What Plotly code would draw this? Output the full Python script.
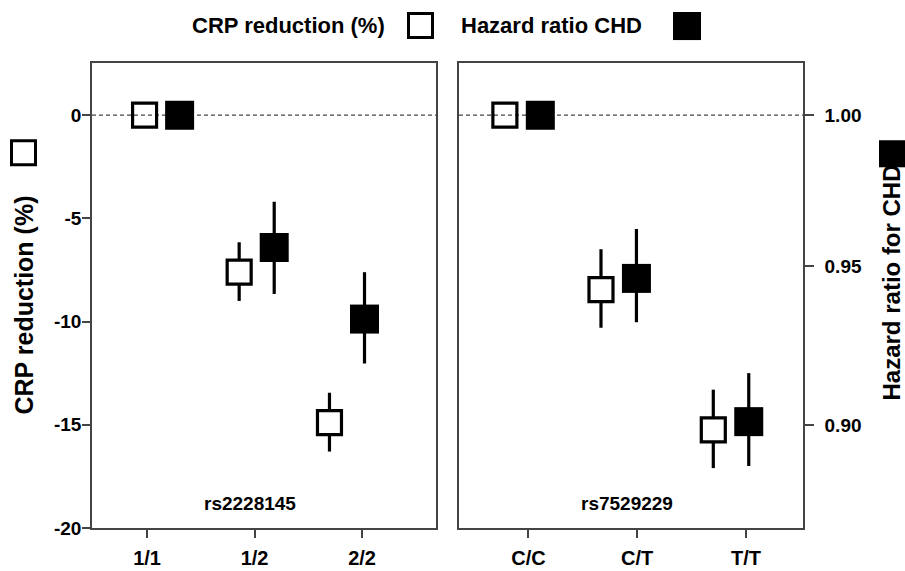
import math
import plotly.graph_objects as go

# ---------------- data ----------------
genotypes_left = ["1/1", "1/2", "2/2"]
genotypes_right = ["C/C", "C/T", "T/T"]
snp_left = "rs2228145"
snp_right = "rs7529229"

crp_left = [0.0, -7.6, -14.9]
crp_left_lo = [0.0, -9.0, -16.3]
crp_left_hi = [0.0, -6.15, -13.45]
hr_left = [1.00, 0.956, 0.933]
hr_left_lo = [1.00, 0.941, 0.919]
hr_left_hi = [1.00, 0.971, 0.948]

crp_right = [0.0, -8.45, -15.25]
crp_right_lo = [0.0, -10.3, -17.1]
crp_right_hi = [0.0, -6.5, -13.3]
hr_right = [1.00, 0.946, 0.901]
hr_right_lo = [1.00, 0.932, 0.8875]
hr_right_hi = [1.00, 0.962, 0.916]

crp_ticks = [0, -5, -10, -15, -20]
crp_ticklabels = ["0", "-5", "-10", "-15", "-20"]
hr_ticks = [1.00, 0.95, 0.90]
hr_ticklabels = ["1.00", "0.95", "0.90"]

legend_crp = "CRP reduction (%)"
legend_hr = "Hazard ratio CHD"
title_left = "CRP reduction (%)"
title_right = "Hazard ratio for CHD"

# ---------------- layout constants ----------------
W, H = 905, 571
FIG_H = 583
FONT = "Liberation Sans, Arial, sans-serif"
AX = "#444444"


def fx(p):
    return p / W


def fy(p):
    return 1 - p / H


Y_DOM = [fy(527), fy(62.7)]
CRP_RANGE = [-20, 2.54]
HR_RANGE = [math.log10(0.869), math.log10(1.018)]
HALF = 0.163
SHIFT_LEFT = [0.14, 0.02, -0.14]
SHIFT_RIGHT = [-0.054, -0.17, -0.137]


def pos(shift, sign):
    return [i + s + sign * HALF for i, s in enumerate(shift)]


def err(v, lo, hi):
    return dict(type="data", symmetric=False,
                array=[h - a for a, h in zip(v, hi)],
                arrayminus=[a - l for a, l in zip(v, lo)],
                color="black", thickness=3.2, width=0)


open_fill = ["rgba(255,255,255,0)" if l == h else "white"
             for l, h in zip(crp_left_lo, crp_left_hi)]
open_fill_r = ["rgba(255,255,255,0)" if l == h else "white"
               for l, h in zip(crp_right_lo, crp_right_hi)]

open_marker = dict(symbol="square", size=24, line=dict(color="black", width=3.2))
filled_marker = dict(symbol="square", size=29, color="black", line=dict(width=0))

fig = go.Figure()
fig.add_trace(go.Scatter(x=pos(SHIFT_LEFT, -1), y=crp_left, mode="markers",
                         marker=dict(open_marker, color=open_fill),
                         error_y=err(crp_left, crp_left_lo, crp_left_hi),
                         xaxis="x", yaxis="y", showlegend=False))
fig.add_trace(go.Scatter(x=pos(SHIFT_LEFT, 1), y=hr_left, mode="markers",
                         marker=filled_marker,
                         error_y=err(hr_left, hr_left_lo, hr_left_hi),
                         xaxis="x", yaxis="y2", showlegend=False))
fig.add_trace(go.Scatter(x=pos(SHIFT_RIGHT, -1), y=crp_right, mode="markers",
                         marker=dict(open_marker, color=open_fill_r),
                         error_y=err(crp_right, crp_right_lo, crp_right_hi),
                         xaxis="x2", yaxis="y3", showlegend=False))
fig.add_trace(go.Scatter(x=pos(SHIFT_RIGHT, 1), y=hr_right, mode="markers",
                         marker=filled_marker,
                         error_y=err(hr_right, hr_right_lo, hr_right_hi),
                         xaxis="x2", yaxis="y4", showlegend=False))

tickfont = dict(family=FONT, size=19, color="black", weight="bold")
common_x = dict(showgrid=False, zeroline=False, showline=True, linecolor=AX,
                linewidth=1.5, mirror=True, ticks="outside", ticklen=8,
                tickwidth=1.5, tickcolor=AX, tickmode="array", tickvals=[0, 1, 2],
                tickfont=dict(tickfont, size=20), fixedrange=True,
                ticklabelstandoff=3)

fig.update_layout(
    width=W, height=FIG_H, autosize=False,
    margin=dict(l=0, r=0, t=0, b=0, pad=0),
    paper_bgcolor="white", plot_bgcolor="white",
    showlegend=False,
    xaxis=dict(common_x, domain=[fx(92), fx(436)], range=[-0.512, 2.688],
               ticktext=genotypes_left, anchor="y"),
    yaxis=dict(domain=Y_DOM, range=CRP_RANGE, anchor="x", showgrid=False,
               zeroline=False, showline=True, linecolor=AX, linewidth=1.5,
               mirror=True, ticks="outside", ticklen=8, tickwidth=1.5,
               tickcolor=AX, tickmode="array", tickvals=crp_ticks,
               ticktext=crp_ticklabels, tickfont=tickfont, ticklabelstandoff=-3,
               fixedrange=True),
    yaxis2=dict(overlaying="y", anchor="x", type="log", range=HR_RANGE,
                visible=False, fixedrange=True),
    xaxis2=dict(common_x, domain=[fx(459), fx(803)], range=[-0.639, 2.525],
                ticktext=genotypes_right, anchor="y3"),
    yaxis3=dict(domain=Y_DOM, range=CRP_RANGE, anchor="x2", visible=False,
                fixedrange=True),
    yaxis4=dict(overlaying="y3", anchor="x2", side="right", type="log",
                range=HR_RANGE, showgrid=False, zeroline=False, showline=True,
                linecolor=AX, linewidth=1.5, mirror=True, ticks="outside",
                ticklen=9, tickwidth=1.5, tickcolor=AX, tickmode="array",
                tickvals=hr_ticks, ticktext=hr_ticklabels, tickfont=tickfont,
                ticklabelstandoff=7, fixedrange=True),
)

dash = dict(color="#444444", width=1.3, dash="4px,3px")
fig.add_shape(type="line", xref="x domain", x0=0, x1=1, yref="y", y0=0, y1=0,
              line=dash, layer="below")
fig.add_shape(type="line", xref="x2 domain", x0=0, x1=1, yref="y3", y0=0, y1=0,
              line=dash, layer="below")


def square(x0, y0, x1, y1, filled):
    fig.add_shape(type="rect", xref="paper", yref="paper",
                  x0=fx(x0), x1=fx(x1), y0=fy(y1), y1=fy(y0),
                  fillcolor="black" if filled else "white",
                  line=dict(color="black", width=0 if filled else 3))


square(408.5, 13.5, 432.5, 37.5, False)
square(673, 12, 701, 40, True)
square(11.5, 140.5, 35.5, 164.5, False)
square(879, 140, 906, 167, True)


def text(s, x, y, size, xanchor="center", angle=0, xref="paper"):
    fig.add_annotation(text=s, x=x, y=y, xref=xref, yref="paper",
                       xanchor=xanchor, yanchor="middle", showarrow=False,
                       textangle=angle,
                       font=dict(family=FONT, size=size, color="black",
                                 weight="bold"))


text(legend_crp, fx(387), fy(25), 22, xanchor="right")
text(legend_hr, fx(459), fy(25), 22, xanchor="left")
text(title_left, fx(24), fy(305), 25, angle=-90)
text(title_right, fx(891), fy(282), 24, angle=-90)
text(snp_left, 0.459, fy(503), 19, xref="x domain")
text(snp_right, 0.487, fy(503), 19, xref="x2 domain")

fig.write_html("out.html",
               config={"displayModeBar": False, "responsive": False},
               post_script="document.body.style.margin='0px';"
                           "document.body.style.overflow='hidden';")
